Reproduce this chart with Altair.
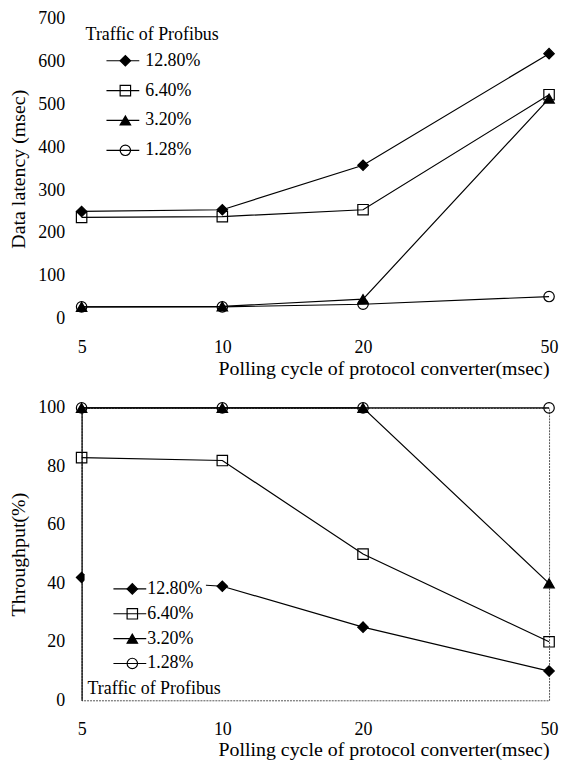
import altair as alt
import pandas as pd

FONT = "Liberation Serif"

cycles = [5, 10, 20, 50]
series = ["12.80%", "6.40%", "3.20%", "1.28%"]
marker_keys = ["m1", "m2", "m3", "m4"]

latency_1280 = [250, 254, 358, 619]
latency_640 = [236, 238, 254, 523]
latency_320 = [27, 28, 45, 514]
latency_128 = [27, 27, 33, 51]

thr_1280 = [42, 39, 25, 10]
thr_640 = [83, 82, 50, 20]
thr_320 = [100, 100, 100, 40]
thr_128 = [100, 100, 100, 100]

shapes = ["diamond", "square", "triangle-up", "circle"]
fills = ["black", "transparent", "black", "transparent"]


def build_df(arrays):
    rows = []
    for name, key, vals in zip(series, marker_keys, arrays):
        for c, v in zip(cycles, vals):
            rows.append({"cycle": c, "value": v, "series": name, "marker": key})
    return pd.DataFrame(rows)


top_df = build_df([latency_1280, latency_640, latency_320, latency_128])
bot_df = build_df([thr_1280, thr_640, thr_320, thr_128])

XTITLE = "Polling cycle of protocol converter(msec)"
LEG_TITLE = "Traffic of Profibus"


def panel(df, ytitle, ydomain, yvalues, height, leg):
    bottom = leg["bottom"]
    x = alt.X(
        "cycle:Q",
        scale=alt.Scale(type="log", domain=[5, 50], nice=False),
        axis=alt.Axis(values=cycles, format="d", title=XTITLE, titleAnchor="end",
                      labelFlush=False, grid=False, ticks=False, domain=False,
                      labelPadding=20, titlePadding=2),
    )
    y = alt.Y(
        "value:Q",
        scale=alt.Scale(domain=ydomain, nice=False),
        axis=alt.Axis(values=yvalues, title=ytitle, grid=False, ticks=False,
                      domain=bottom, domainColor="black", domainWidth=1.2,
                      labelPadding=17, titlePadding=9),
    )
    common = dict(orient="none", legendX=leg["x"], legendY=leg["y"],
                  titlePadding=leg["tpad"], labelFontSize=18, titleFontSize=18,
                  titleFontWeight="normal", labelFont=FONT, titleFont=FONT,
                  titleColor="black", labelColor="black",
                  symbolStrokeColor="black", symbolStrokeWidth=1.2,
                  padding=leg["pad"], clipHeight=22, rowPadding=leg["rp"])
    if bottom:
        common.update(titleOrient="bottom")
    stroke_leg = dict(common, symbolType="stroke", symbolSize=1089,
                      symbolOffset=leg["soff"], labelOffset=leg["loff"])
    shape_leg = dict(common, symbolSize=110, symbolOffset=leg["soff"] + 11,
                     labelExpr="''")
    if bottom:
        # entries boxed in white (covering the data line), title drawn below them
        stroke_leg.update(fillColor="white", title=None)
        shape_leg.update(title=LEG_TITLE)
    else:
        stroke_leg.update(title=LEG_TITLE)
        shape_leg.update(title=" ")

    lines = alt.Chart(df).mark_line(strokeWidth=1.2).encode(
        x=x, y=y,
        color=alt.Color("series:N", scale=alt.Scale(domain=series, range=["black"] * 4),
                        sort=series, legend=alt.Legend(**stroke_leg)),
    )
    pts = alt.Chart(df).mark_point(filled=True, size=110, strokeWidth=1.2,
                                   opacity=1).encode(
        x=x, y=y,
        shape=alt.Shape("marker:N", scale=alt.Scale(domain=marker_keys, range=shapes),
                        legend=alt.Legend(**shape_leg)),
        fill=alt.Fill("marker:N", scale=alt.Scale(domain=marker_keys, range=fills),
                      legend=alt.Legend(**shape_leg)),
        stroke=alt.Stroke("marker:N", scale=alt.Scale(domain=marker_keys, range=["black"] * 4),
                          legend=alt.Legend(**shape_leg)),
    )
    layer = alt.layer(lines, pts).properties(width=470, height=height)
    if bottom:
        layer = layer.properties(view=alt.ViewBackground(stroke="#555", strokeDash=[2, 1]))
    return layer


top_leg = dict(bottom=False, x=4, y=7, tpad=6, pad=0, soff=20, loff=5, rp=8)
bot_leg = dict(bottom=True, x=3, y=168, tpad=6, pad=3, soff=25, loff=0, rp=3)

top = panel(top_df, "Data latency (msec)", [0, 700], list(range(0, 701, 100)), 301, top_leg)
bot = panel(bot_df, "Throughput(%)", [0, 100], list(range(0, 101, 20)), 294, bot_leg)

chart = alt.vconcat(top, bot, spacing=20).resolve_scale(
    color="independent", shape="independent", fill="independent", stroke="independent"
).resolve_legend(
    color="independent", shape="independent", fill="independent", stroke="independent"
).properties(
    padding={"top": 0, "left": 0, "right": 0, "bottom": 0}
).configure(font=FONT).configure_axis(
    labelFont=FONT, titleFont=FONT, labelFontSize=18, titleFontSize=20,
    titleFontWeight="normal", labelColor="black", titleColor="black",
).configure_view(stroke=None)

chart.save("out.html", embed_options={"renderer": "svg", "actions": False})
